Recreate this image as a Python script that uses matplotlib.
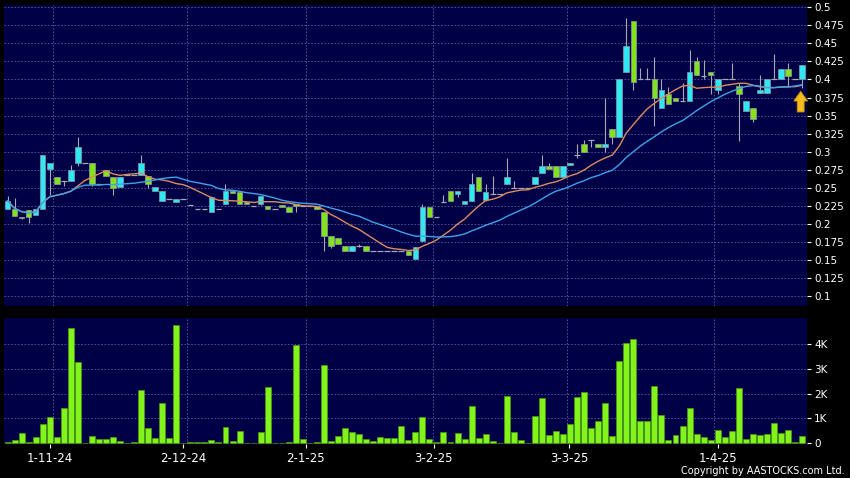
import numpy as np
import pandas as pd
import matplotlib
matplotlib.use('Agg')
import matplotlib.pyplot as plt

#################################################
#            Data
#################################################
opens = [0.221, 0.220, 0.210, 0.219, 0.212, 0.220, 0.276, 0.265, 0.260, 0.260,
         0.285, 0.285, 0.285, 0.255, 0.275, 0.265, 0.251, 0.268, 0.268, 0.268,
         0.266, 0.246, 0.232, 0.235, 0.230, 0.235, 0.226, 0.221, 0.221, 0.216,
         0.221, 0.228, 0.246, 0.244, 0.230, 0.225, 0.228, 0.225, 0.221, 0.226,
         0.223, 0.227, 0.225, 0.225, 0.225, 0.216, 0.183, 0.180, 0.170, 0.162,
         0.170, 0.170, 0.162, 0.162, 0.162, 0.162, 0.162, 0.162, 0.151, 0.176,
         0.223, 0.209, 0.230, 0.245, 0.242, 0.228, 0.231, 0.265, 0.233, 0.241,
         0.241, 0.255, 0.250, 0.250, 0.250, 0.255, 0.270, 0.280, 0.280, 0.265,
         0.282, 0.295, 0.310, 0.316, 0.310, 0.306, 0.331, 0.320, 0.410, 0.481,
         0.400, 0.400, 0.400, 0.361, 0.380, 0.375, 0.370, 0.370, 0.425, 0.405,
         0.410, 0.386, 0.400, 0.400, 0.391, 0.356, 0.360, 0.381, 0.381, 0.400,
         0.400, 0.415, 0.400, 0.400]
highs = [0.238, 0.236, 0.210, 0.219, 0.221, 0.295, 0.285, 0.265, 0.260, 0.281,
         0.320, 0.285, 0.285, 0.255, 0.275, 0.265, 0.265, 0.268, 0.268, 0.295,
         0.266, 0.251, 0.246, 0.235, 0.235, 0.235, 0.226, 0.221, 0.221, 0.238,
         0.221, 0.255, 0.246, 0.246, 0.230, 0.225, 0.238, 0.225, 0.221, 0.226,
         0.223, 0.228, 0.225, 0.225, 0.225, 0.216, 0.183, 0.180, 0.170, 0.170,
         0.172, 0.170, 0.162, 0.162, 0.162, 0.162, 0.162, 0.162, 0.168, 0.228,
         0.223, 0.209, 0.240, 0.245, 0.246, 0.231, 0.270, 0.265, 0.255, 0.266,
         0.241, 0.291, 0.260, 0.250, 0.250, 0.265, 0.295, 0.285, 0.280, 0.280,
         0.285, 0.311, 0.316, 0.316, 0.310, 0.375, 0.331, 0.400, 0.485, 0.481,
         0.416, 0.416, 0.431, 0.400, 0.390, 0.375, 0.395, 0.441, 0.431, 0.427,
         0.410, 0.400, 0.400, 0.423, 0.395, 0.370, 0.360, 0.406, 0.400, 0.436,
         0.415, 0.423, 0.400, 0.420]
lows = [0.221, 0.211, 0.207, 0.201, 0.212, 0.220, 0.240, 0.255, 0.252, 0.260,
        0.280, 0.285, 0.252, 0.255, 0.266, 0.240, 0.251, 0.268, 0.268, 0.268,
        0.250, 0.246, 0.232, 0.235, 0.230, 0.235, 0.226, 0.221, 0.221, 0.216,
        0.221, 0.228, 0.243, 0.228, 0.228, 0.225, 0.226, 0.220, 0.221, 0.224,
        0.216, 0.216, 0.225, 0.225, 0.220, 0.1625, 0.166, 0.172, 0.162, 0.162,
        0.168, 0.162, 0.162, 0.162, 0.162, 0.162, 0.162, 0.157, 0.151, 0.176,
        0.209, 0.209, 0.230, 0.231, 0.2375, 0.228, 0.231, 0.245, 0.231, 0.241,
        0.241, 0.255, 0.250, 0.250, 0.250, 0.255, 0.270, 0.276, 0.265, 0.265,
        0.282, 0.291, 0.300, 0.306, 0.306, 0.300, 0.311, 0.320, 0.410, 0.385,
        0.400, 0.400, 0.335, 0.361, 0.366, 0.370, 0.370, 0.370, 0.406, 0.400,
        0.380, 0.380, 0.400, 0.400, 0.315, 0.356, 0.341, 0.381, 0.381, 0.400,
        0.400, 0.390, 0.400, 0.388]
closes = [0.232, 0.211, 0.208, 0.210, 0.221, 0.295, 0.285, 0.255, 0.260, 0.275,
          0.306, 0.285, 0.255, 0.255, 0.266, 0.250, 0.265, 0.268, 0.268, 0.285,
          0.255, 0.251, 0.246, 0.235, 0.235, 0.235, 0.226, 0.221, 0.221, 0.237,
          0.221, 0.246, 0.243, 0.228, 0.228, 0.225, 0.238, 0.220, 0.221, 0.224,
          0.216, 0.225, 0.225, 0.225, 0.220, 0.183, 0.170, 0.172, 0.162, 0.170,
          0.170, 0.162, 0.162, 0.162, 0.162, 0.162, 0.162, 0.157, 0.168, 0.223,
          0.209, 0.209, 0.230, 0.231, 0.246, 0.231, 0.255, 0.245, 0.244, 0.241,
          0.241, 0.265, 0.250, 0.250, 0.250, 0.265, 0.280, 0.276, 0.265, 0.280,
          0.285, 0.295, 0.300, 0.316, 0.306, 0.310, 0.320, 0.400, 0.446, 0.397,
          0.400, 0.400, 0.375, 0.385, 0.366, 0.370, 0.370, 0.410, 0.406, 0.405,
          0.406, 0.400, 0.400, 0.400, 0.380, 0.370, 0.345, 0.386, 0.400, 0.400,
          0.415, 0.405, 0.400, 0.420]
# volume in thousands of shares
volume_k = [0.05, 0.12, 0.40, 0.03, 0.23, 0.76, 1.07, 0.26, 1.40, 4.65,
            3.27, 0.01, 0.27, 0.16, 0.15, 0.24, 0.08, 0.00, 0.04, 2.15,
            0.60, 0.20, 1.62, 0.20, 4.77, 0.00, 0.04, 0.05, 0.05, 0.14,
            0.04, 0.65, 0.10, 0.49, 0.02, 0.00, 0.43, 2.27, 0.00, 0.00,
            0.05, 3.96, 0.15, 0.00, 0.04, 3.15, 0.07, 0.28, 0.62, 0.46,
            0.36, 0.15, 0.08, 0.24, 0.20, 0.19, 0.69, 0.12, 0.46, 1.04,
            0.18, 0.05, 0.43, 0.04, 0.39, 0.16, 1.49, 0.19, 0.38, 0.10,
            0.00, 1.89, 0.46, 0.14, 0.00, 1.11, 1.82, 0.31, 0.50, 0.38,
            0.77, 1.85, 2.07, 0.62, 0.88, 1.60, 0.30, 3.31, 4.05, 4.20,
            0.90, 0.90, 2.30, 1.15, 0.12, 0.34, 0.69, 1.42, 0.36, 0.23,
            0.12, 0.51, 0.23, 0.49, 2.23, 0.15, 0.35, 0.31, 0.36, 0.81,
            0.42, 0.51, 0.03, 0.27]

date_labels = ['1-11-24', '2-12-24', '2-1-25', '3-2-25', '3-3-25', '1-4-25']
date_ticks = [6.0, 25.0, 42.4, 60.6, 79.9, 101.0]
date_grid = [6.5, 25.5, 42.5, 60.5, 79.5, 100.5]

price_ticks = [0.1, 0.125, 0.15, 0.175, 0.2, 0.225, 0.25, 0.275, 0.3, 0.325,
               0.35, 0.375, 0.4, 0.425, 0.45, 0.475, 0.5]
vol_ticks = [0, 1, 2, 3, 4]
vol_labels = ['0', '1K', '2K', '3K', '4K']

#################################################
#            Styling
#################################################
bg = '#000046'
grid_col = '#5c5c98'
up_col = '#2ee8f2'
down_col = '#84e21a'
edge_col = '#8a9aa8'
wick_col = '#a8a8b0'

o = np.array(opens)
h = np.array(highs)
l = np.array(lows)
c = np.array(closes)
v = np.array(volume_k)
idx = np.arange(len(c))

ma10 = pd.Series(c).rolling(10, min_periods=1).mean()
ma20 = pd.Series(c).rolling(20, min_periods=1).mean()

fig = plt.figure(figsize=(8.5, 4.78), dpi=100, facecolor='black')
ax = fig.add_axes([4 / 850, 1 - 306 / 478, 803 / 850, 301 / 478])
axv = fig.add_axes([4 / 850, 1 - 444 / 478, 803 / 850, 126 / 478])

for a in (ax, axv):
    a.set_facecolor(bg)
    for s in a.spines.values():
        s.set_visible(False)
    a.set_xlim(-0.5, 113.7)
    for g in date_grid:
        a.axvline(g, color=grid_col, lw=0.6, ls=(0, (2, 2)), zorder=0)

#################################################
#            Price panel
#################################################
ax.set_ylim(0.0862, 0.5032)
for p in price_ticks:
    ax.axhline(p, color=grid_col, lw=0.6, ls=(0, (2, 2)), zorder=0)

ax.vlines(idx, l, h, color=wick_col, lw=0.8, zorder=2)

up = c > o
down = c < o
flat = c == o
w = 0.8
ax.bar(idx[up], (c - o)[up], bottom=o[up], width=w, color=up_col,
       edgecolor=edge_col, lw=0.5, zorder=3)
ax.bar(idx[down], (o - c)[down], bottom=c[down], width=w, color=down_col,
       edgecolor=edge_col, lw=0.5, zorder=3)
ax.hlines(c[flat], idx[flat] - w / 2, idx[flat] + w / 2, color=wick_col, lw=0.9, zorder=3)

ax.plot(idx, ma10, color='#dc8c5c', lw=1.0, zorder=4)
ax.plot(idx, ma20, color='#3fa2ea', lw=1.0, zorder=4)

# yellow marker arrow under the last candle
ax.annotate('', xy=(112.8, 0.3836), xytext=(112.8, 0.3550),
            arrowprops=dict(arrowstyle='simple,head_width=1.0,head_length=0.7,tail_width=0.5',
                            mutation_scale=10, shrinkA=0, shrinkB=0,
                            fc='#f4bc1c', ec='#c88a08', lw=0.6),
            zorder=6)

ax.yaxis.tick_right()
ax.set_yticks(price_ticks)
ax.set_yticklabels(['%g' % p for p in price_ticks])
ax.tick_params(axis='y', colors='white', length=3, width=0.8, pad=2, labelsize=7.5)
ax.set_xticks([])

#################################################
#            Volume panel
#################################################
axv.set_ylim(-0.04, 5.06)
for t in vol_ticks[1:]:
    axv.axhline(t, color=grid_col, lw=0.6, ls=(0, (2, 2)), zorder=0)
axv.bar(idx, v, width=0.85, color='#82f41c', edgecolor='#4a9a10', lw=0.5, zorder=3)

axv.yaxis.tick_right()
axv.set_yticks(vol_ticks)
axv.set_yticklabels(vol_labels)
axv.tick_params(axis='y', colors='white', length=3, width=0.8, pad=2, labelsize=7.5)
axv.set_xticks(date_ticks)
axv.set_xticklabels(date_labels)
axv.tick_params(axis='x', colors='white', length=3, width=0.8, pad=3, labelsize=8.5)

fig.text(845 / 850, 2 / 478, 'Copyright by AASTOCKS.com Ltd.', ha='right', va='bottom',
         color='white', fontsize=7)

fig.savefig('out.png', dpi=100, facecolor='black')
